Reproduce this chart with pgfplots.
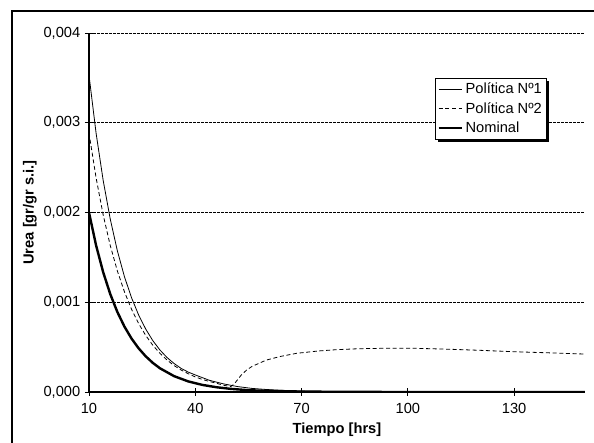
\documentclass[border=0pt]{standalone}
\usepackage{fontspec}
\setmainfont{Liberation Sans}
\usepackage{pgfplots}
\pgfplotsset{compat=1.18}
\usetikzlibrary{shadows}
\makeatletter
\tikzset{nopre/.code={\let\tikz@preactions\pgfutil@empty}}
\makeatother
\begin{document}
\begin{tikzpicture}
\useasboundingbox (-66.75pt,-38.25pt) rectangle (378.75pt,294pt);
\draw[line width=1.5pt] (-57.75pt,-60pt) -- (-57.75pt,286.1pt) -- (400pt,286.1pt);
\begin{axis}[
  at={(0,0)}, anchor=south west,
  scale only axis, width=372pt, height=269.25pt,
  xmin=10, xmax=150, ymin=0, ymax=0.004,
  xtick={10,40,70,100,130},
  ytick={0,0.001,0.002,0.003,0.004},
  axis x line*=bottom, axis y line*=left,
  axis line style={line width=1pt},
  tick align=center, major tick length=6pt,
  tick style={line width=0.6pt, black},
  ymajorgrids,
  grid style={black, line width=0.5pt, dash pattern=on 2pt off 1pt},
  scaled y ticks=false,
  yticklabel style={/pgf/number format/.cd, fixed, fixed zerofill, precision=3, use comma, assume math mode=true},
  xticklabel style={/pgf/number format/assume math mode=true, yshift=-2pt},
  every tick label/.append style={font=\fontsize{11}{13}\selectfont},
  xlabel={\textbf{Tiempo [hrs]}},
  ylabel={\textbf{Urea [gr/gr s.i.]}},
  label style={font=\fontsize{11}{13}\selectfont},
  xlabel style={at={(axis description cs:0.5,-0.105)}, anchor=center},
  ylabel style={at={(axis description cs:-0.119,0.5)}, anchor=center},
  legend style={at={(0.698,0.875)}, anchor=north west, draw=black, line width=0.5pt, fill=white,
    font=\fontsize{11}{12}\selectfont, inner sep=1.5pt, row sep=1pt,
    nodes={inner xsep=1.6pt, inner ysep=2pt, text depth=0.15em},
    drop shadow={shadow xshift=2pt, shadow yshift=-2pt, fill=black, opacity=1}},
  legend cell align=left,
  legend image code/.code={\draw[nopre,#1] (0cm,0cm) -- (0.62cm,0cm);},
  clip=true,
]
\addplot[black, line width=0.6pt] coordinates {
(10,3.53e-3) (12,2.884e-3) (14,2.358e-3) (16,1.927e-3) (18,1.574e-3) (20,1.286e-3)
(22,1.051e-3) (24,0.859e-3) (26,0.702e-3) (28,0.573e-3) (30,0.469e-3) (32,0.385e-3)
(34,0.318e-3) (36,0.263e-3) (38,0.222e-3) (40,0.19e-3) (44,0.13e-3) (48,0.09e-3)
(52,0.06e-3) (56,0.04e-3) (60,0.028e-3) (65,0.017e-3) (70,0.01e-3) (80,0.004e-3)
(90,0.002e-3) (100,0.001e-3) (120,0.0002e-3) (150,0)
};
\addlegendentry{Política Nº1}
\addplot[black, line width=0.6pt, dash pattern=on 3pt off 2pt] coordinates {
(10,2.886e-3) (12,2.387e-3) (14,1.974e-3) (16,1.632e-3) (18,1.350e-3) (20,1.117e-3)
(22,0.923e-3) (24,0.763e-3) (26,0.631e-3) (28,0.522e-3) (30,0.432e-3) (32,0.357e-3)
(34,0.295e-3) (36,0.245e-3) (38,0.204e-3) (40,0.168e-3) (42,0.140e-3) (44,0.117e-3)
(46,0.097e-3) (48,0.075e-3) (50,0.06e-3) (51,0.09e-3) (52,0.14e-3) (53,0.19e-3)
(54.5,0.245e-3) (56,0.285e-3) (58,0.32e-3) (60,0.355e-3) (64,0.396e-3) (68.6,0.431e-3)
(74.7,0.457e-3) (80,0.472e-3) (86,0.482e-3) (93,0.487e-3) (102,0.487e-3) (112,0.476e-3)
(120,0.465e-3) (130,0.449e-3) (140,0.436e-3) (150,0.423e-3)
};
\addlegendentry{Política Nº2}
\addplot[black, line width=1.8pt] coordinates {
(10,2.0e-3) (12,1.634e-3) (14,1.335e-3) (16,1.091e-3) (18,0.892e-3) (20,0.729e-3)
(22,0.596e-3) (24,0.487e-3) (26,0.398e-3) (28,0.325e-3) (30,0.265e-3) (34,0.177e-3)
(38,0.118e-3) (42,0.079e-3) (46,0.053e-3) (50,0.035e-3) (55,0.02e-3) (60,0.013e-3)
(70,0.005e-3) (80,0.002e-3) (90,0.0006e-3) (110,0.0001e-3) (150,0)
};
\addlegendentry{Nominal}
\draw[black, line width=0.6pt] (rel axis cs:1,0) -- (rel axis cs:1,1);
\end{axis}
\end{tikzpicture}
\end{document}
